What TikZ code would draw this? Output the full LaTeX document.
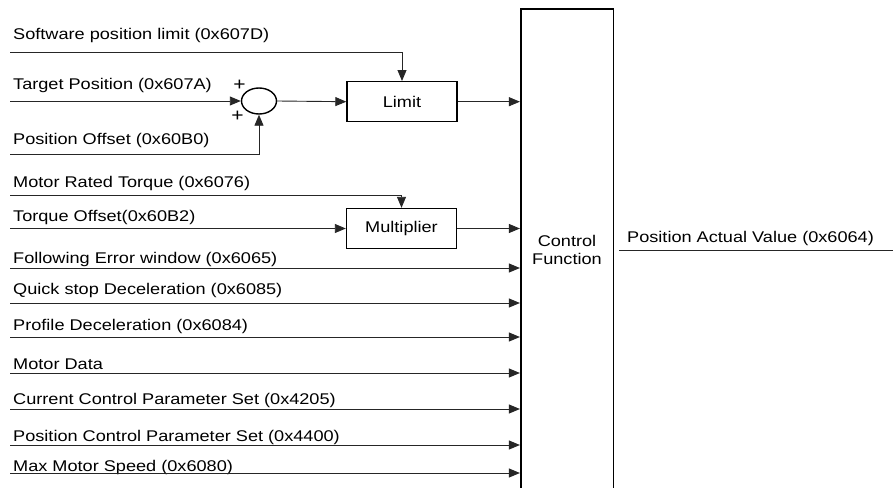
\documentclass[tikz,border=0pt]{standalone}
\usepackage{fontspec}
\setmainfont{Liberation Sans}[FakeStretch=1.17]
\usetikzlibrary{arrows.meta,shapes.geometric}
\newcommand\lblfont{\fontsize{15.5}{18}\selectfont}
\begin{document}
\begin{tikzpicture}[x=1pt,y=-1pt,
  conn/.style={draw=black!85, line width=0.9pt},
  arr/.style={conn, -{Triangle[length=11pt,width=9pt]}},
  blk/.style={draw=black, line width=1.4pt, minimum width=110pt, minimum height=40pt, inner sep=0pt, font=\lblfont},
  lbl/.style={anchor=base west, inner sep=0pt, font=\lblfont},
  plus/.style={inner sep=0pt, font=\fontsize{18}{18}\selectfont}
  ]
\fill[white] (0,0) rectangle (893,487);
\useasboundingbox (0,0) rectangle (893,487);

% blocks
\node[blk] (limit) at (402,101.7) {Limit};
\node[blk] (mult) at (401.5,228.5) {Multiplier};
\node[ellipse, draw, line width=1.4pt, minimum width=35pt, minimum height=26pt, inner sep=0pt] (sum) at (259,101) {};
\node[draw, line width=1.6pt, minimum width=92.6pt, minimum height=481.4pt, align=center, font=\lblfont] (cf) at (567,250) {Control\\Function};

\node[plus] (p1) at (239.5,85) {+};
\node[plus] (p2) at (237.5,116) {+};

% labels
\node[lbl] (l1) at (13,40) {Software position limit (0x607D)};
\node[lbl] (l2) at (13,89) {Target Position (0x607A)};
\node[lbl] (l3) at (13,144) {Position Offset (0x60B0)};
\node[lbl] (l4) at (13,187) {Motor Rated Torque (0x6076)};
\node[lbl] (l5) at (13,221) {Torque Offset(0x60B2)};
\node[lbl] (l6) at (13,263) {Following Error window (0x6065)};
\node[lbl] (l7) at (13,294) {Quick stop Deceleration (0x6085)};
\node[lbl] (l8) at (13,330) {Profile Deceleration (0x6084)};
\node[lbl] (l9) at (13,369) {Motor Data};
\node[lbl] (l10) at (13,404) {Current Control Parameter Set (0x4205)};
\node[lbl] (l11) at (13,441) {Position Control Parameter Set (0x4400)};
\node[lbl] (l12) at (13,471) {Max Motor Speed (0x6080)};
\node[lbl] (pav) at (627,242) {Position Actual Value (0x6064)};

% line starts
\coordinate (s1) at (10,52);
\coordinate (s2) at (10,101);
\coordinate (s3) at (10,154);
\coordinate (s4) at (10,195.5);
\coordinate (s5) at (10,228.5);
\coordinate (s6) at (10,268);
\coordinate (s7) at (10,303);
\coordinate (s8) at (10,337);
\coordinate (s9) at (10,373);
\coordinate (s10) at (10,409);
\coordinate (s11) at (10,445);
\coordinate (s12) at (10,473);
\coordinate (out) at (893,250);

% connectors
\draw[arr] (s1) -| (limit.north);
\draw[arr] (s2) -- (sum.west);
\draw[arr] (s3) -| (sum.south);
\draw[arr] (sum.east) -- (limit.west);
\draw[arr] (limit.east) -- (cf.west |- limit.east);
\draw[arr] (s4) -| (mult.north);
\draw[arr] (s5) -- (mult.west);
\draw[arr] (mult.east) -- (cf.west |- mult.east);
\foreach \s in {s6,s7,s8,s9,s10,s11,s12}
  \draw[arr] (\s) -- (cf.west |- \s);
\draw[conn] ([xshift=5pt]cf.east) -- (out);
\end{tikzpicture}
\end{document}
